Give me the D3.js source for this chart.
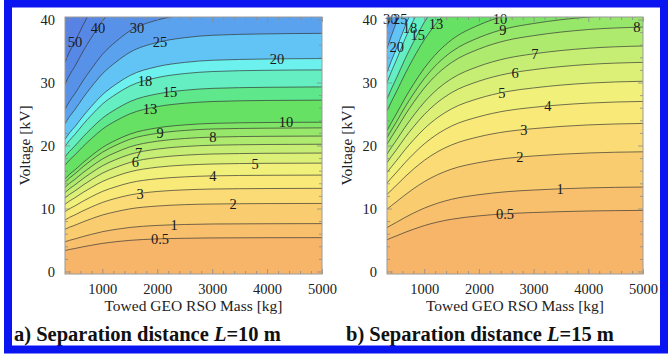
<!DOCTYPE html>
<html>
<head>
<meta charset="utf-8">
<script src="https://cdn.jsdelivr.net/npm/d3@7"></script>
<style>
  body { margin: 0; background: #fff; }
  svg text { font-family: "Liberation Serif", "Times New Roman", serif; }
</style>
</head>
<body>
<div id="chart"></div>
<script>
/* --------------------------------------------------------- */
/* DATA                     */
/* --------------------------------------------------------- */

// towed mass samples [kg] where each contour voltage was read
const masses = [320, 400, 500, 650, 800, 1000, 1250, 1500, 2000, 2500, 3000, 4000, 5000];

const massTicks = [1000, 2000, 3000, 4000, 5000];
const voltTicks = [0, 10, 20, 30, 40];

// a) L = 10 m : contour levels and voltage [kV] of each contour at the masses above
const levelsA = [0.5, 1, 2, 3, 4, 5, 6, 7, 8, 9, 10, 13, 15, 18, 20, 25, 30, 40, 50];
const contoursA = [
  [3.33, 3.49, 3.65, 3.92, 4.16, 4.46, 4.73, 4.94, 5.17, 5.27, 5.33, 5.36, 5.37],
  [4.71, 4.94, 5.17, 5.55, 5.89, 6.31, 6.69, 6.99, 7.31, 7.46, 7.54, 7.58, 7.6],
  [6.70, 7.02, 7.34, 7.88, 8.37, 8.96, 9.50, 9.94, 10.39, 10.61, 10.71, 10.78, 10.8],
  [8.18, 8.58, 8.98, 9.64, 10.23, 10.96, 11.62, 12.14, 12.70, 12.96, 13.09, 13.17, 13.2],
  [9.49, 9.95, 10.40, 11.17, 11.86, 12.70, 13.46, 14.08, 14.72, 15.02, 15.18, 15.27, 15.3],
  [10.66, 11.18, 11.70, 12.56, 13.33, 14.28, 15.14, 15.82, 16.55, 16.89, 17.06, 17.17, 17.2],
  [11.66, 12.22, 12.78, 13.72, 14.57, 15.60, 16.54, 17.30, 18.09, 18.46, 18.65, 18.76, 18.8],
  [12.52, 13.13, 13.74, 14.75, 15.66, 16.77, 17.78, 18.58, 19.43, 19.84, 20.04, 20.16, 20.2],
  [13.33, 13.98, 14.62, 15.70, 16.66, 17.85, 18.92, 19.78, 20.68, 21.11, 21.33, 21.46, 21.5],
  [14.14, 14.82, 15.50, 16.64, 17.67, 18.92, 20.06, 20.98, 21.93, 22.39, 22.62, 22.75, 22.8],
  [14.69, 15.41, 16.12, 17.30, 18.37, 19.67, 20.86, 21.80, 22.80, 23.27, 23.51, 23.65, 23.7],
  [16.86, 17.68, 18.50, 19.86, 21.08, 22.58, 23.94, 25.02, 26.17, 26.71, 26.98, 27.15, 27.2],
  [18.17, 19.05, 19.92, 21.39, 22.71, 24.32, 25.78, 26.96, 28.19, 28.77, 29.07, 29.24, 29.3],
  [19.84, 20.80, 21.76, 23.36, 24.80, 26.56, 28.16, 29.44, 30.78, 31.42, 31.74, 31.94, 32.0],
  [20.96, 21.97, 22.98, 24.67, 26.20, 28.05, 29.74, 31.10, 32.52, 33.19, 33.53, 33.73, 33.8],
  [23.44, 24.57, 25.70, 27.59, 29.30, 31.37, 33.26, 34.78, 36.36, 37.12, 37.50, 37.72, 37.8],
  [25.73, 26.98, 28.22, 30.30, 32.16, 34.45, 36.52, 38.18, 39.92, 40.75, 41.17, 41.42, 41.5],
  [29.70, 31.14, 32.57, 34.97, 37.12, 39.76, 42.15, 44.07, 46.08, 47.04, 47.52, 47.80, 47.9],
  [33.23, 34.84, 36.45, 39.13, 41.54, 44.49, 47.17, 49.31, 51.56, 52.64, 53.17, 53.49, 53.6]
];
// mass [kg] where each contour label sits
const labelMassA = [2050, 2305, 3380, 1686, 3015, 3780, 1600, 1660, 3015, 2050, 4345, 1868, 2232, 1777, 4180, 2050, 1631, 921, 502];

// b) L = 15 m
const levelsB = [0.5, 1, 2, 3, 4, 5, 6, 7, 8, 9, 10, 13, 15, 18, 20, 25, 30];
const contoursB = [
  [5.04, 5.34, 5.67, 6.21, 6.69, 7.28, 7.86, 8.29, 8.83, 9.17, 9.36, 9.60, 9.7],
  [6.97, 7.37, 7.84, 8.58, 9.25, 10.05, 10.85, 11.46, 12.19, 12.66, 12.93, 13.27, 13.4],
  [9.88, 10.45, 11.12, 12.16, 13.11, 14.25, 15.39, 16.25, 17.29, 17.96, 18.34, 18.81, 19.0],
  [12.22, 12.93, 13.75, 15.04, 16.22, 17.63, 19.04, 20.09, 21.39, 22.21, 22.68, 23.27, 23.5],
  [14.04, 14.85, 15.80, 17.28, 18.63, 20.25, 21.87, 23.09, 24.57, 25.52, 26.06, 26.73, 27.0],
  [15.70, 16.61, 17.67, 19.33, 20.84, 22.65, 24.46, 25.82, 27.48, 28.54, 29.14, 29.90, 30.2],
  [17.26, 18.26, 19.42, 21.25, 22.91, 24.90, 26.89, 28.39, 30.21, 31.37, 32.04, 32.87, 33.2],
  [18.62, 19.69, 20.94, 22.91, 24.70, 26.85, 29.00, 30.61, 32.58, 33.83, 34.55, 35.44, 35.8],
  [20.18, 21.34, 22.70, 24.83, 26.77, 29.10, 31.43, 33.17, 35.31, 36.67, 37.44, 38.41, 38.8],
  [21.22, 22.44, 23.87, 26.11, 28.15, 30.60, 33.05, 34.88, 37.13, 38.56, 39.37, 40.39, 40.8],
  [22.36, 23.65, 25.16, 27.52, 29.67, 32.25, 34.83, 36.77, 39.13, 40.64, 41.50, 42.57, 43.0],
  [25.48, 26.95, 28.67, 31.36, 33.81, 36.75, 39.69, 41.90, 44.59, 46.31, 47.29, 48.51, 49.0],
  [27.40, 28.99, 30.83, 33.73, 36.36, 39.53, 42.69, 45.06, 47.96, 49.80, 50.86, 52.17, 52.7],
  [30.00, 31.74, 33.75, 36.93, 39.81, 43.28, 46.74, 49.33, 52.51, 54.53, 55.68, 57.12, 57.7],
  [31.62, 33.44, 35.57, 38.91, 41.95, 45.60, 49.25, 51.98, 55.33, 57.46, 58.67, 60.19, 60.8],
  [35.36, 37.40, 39.78, 43.52, 46.92, 51.00, 55.08, 58.14, 61.88, 64.26, 65.62, 67.32, 68.0],
  [38.74, 40.98, 43.58, 47.68, 51.41, 55.88, 60.35, 63.70, 67.80, 70.40, 71.89, 73.76, 74.5]
];
const labelMassB = [2477, 3483, 2751, 2824, 3263, 2422, 2660, 3025, 4890, 2440, 2386, 1216, 880, 740, 500, 560, 380];

/* --------------------------------------------------------- */
/* STYLE                                                     */
/* --------------------------------------------------------- */

// fill of the region lying above each contour level (key = lower level)
const bandColor = {
  "0": "#f7b56a", "0.5": "#f8c06c", "1": "#facc70", "2": "#fbdb75", "3": "#f9e979",
  "4": "#f0f07a", "5": "#dcf078", "6": "#c6ee74", "7": "#aeea6e", "8": "#96e76a",
  "9": "#80e466", "10": "#66e163", "13": "#5fe78c", "15": "#64eec2", "18": "#6cf1ef",
  "20": "#62c4f4", "25": "#5aa2ee", "30": "#5892e8", "40": "#5888e6", "50": "#5882e4"
};

const W = 672, H = 354;
const plotTop = 17, plotBottom = 274;

const svg = d3.select("#chart").append("svg")
  .attr("width", W)
  .attr("height", H);

svg.append("rect").attr("width", W).attr("height", H).attr("fill", "#fff");

/* --------------------------------------------------------- */
/* DRAW ONE PANEL                                            */
/* --------------------------------------------------------- */
function drawPanel(p) {

  const x = d3.scaleLinear().domain([masses[0], 5000]).range([p.x0, p.x1]);
  const y = d3.scaleLinear().domain([-0.4, 40.4]).range([plotBottom, plotTop]);

  svg.append("clipPath").attr("id", "clip-" + p.id)
    .append("rect")
    .attr("x", p.x0).attr("y", plotTop)
    .attr("width", p.x1 - p.x0).attr("height", plotBottom - plotTop);

  const plot = svg.append("g").attr("clip-path", "url(#clip-" + p.id + ")");

  plot.append("rect")
    .attr("x", p.x0).attr("y", plotTop)
    .attr("width", p.x1 - p.x0).attr("height", plotBottom - plotTop)
    .attr("fill", bandColor["0"]);

  const line = d3.line()
    .x(function (d, i) { return x(masses[i]); })
    .y(function (d) { return y(d); })
    .curve(d3.curveMonotoneX);

  // shaded bands: everything above a contour gets that level's colour
  p.levels.forEach(function (lev, k) {
    const d = line(p.contours[k]) +
      "L" + x(5000) + "," + y(90) +
      "L" + x(masses[0]) + "," + y(90) + "Z";
    plot.append("path").attr("d", d).attr("fill", bandColor[String(lev)]);
  });

  // contour lines
  p.levels.forEach(function (lev, k) {
    plot.append("path")
      .attr("d", line(p.contours[k]))
      .attr("fill", "none")
      .attr("stroke", "#333")
      .attr("stroke-opacity", 0.85)
      .attr("stroke-width", 0.8);
  });

  // contour labels
  p.levels.forEach(function (lev, k) {
    const at = d3.scaleLinear().domain(masses).range(p.contours[k]);
    const m = p.labelMass[k];
    const v = Math.min(at(m), 40.1);
    svg.append("text")
      .attr("x", x(m))
      .attr("y", y(v))
      .attr("dy", "0.35em")
      .attr("text-anchor", "middle")
      .attr("font-size", 14.5)
      .attr("fill", "#1a1a1a")
      .text(String(lev));
  });

  // frame with ticks on all four sides (Mathematica style)
  const minorX = d3.range(400, 5000, 200).filter(function (m) { return m % 1000 !== 0; });
  const minorY = d3.range(2, 40, 2).filter(function (v) { return v % 10 !== 0; });

  function tickAxis(axis, scale, values, size, tr, labels) {
    const a = axis(scale).tickValues(values).tickSizeInner(-size).tickSizeOuter(0);
    if (!labels) a.tickFormat("");
    else a.tickPadding(5 + size).tickFormat(d3.format("d"));
    const g = svg.append("g").attr("transform", tr).call(a);
    g.select(".domain").remove();
    g.selectAll(".tick line").attr("stroke", "#8c8c8c").attr("stroke-width", 0.8);
    g.selectAll(".tick text")
      .attr("font-size", 14.5)
      .attr("fill", "#222")
      .style("font-family", '"Liberation Serif", serif');
    return g;
  }

  tickAxis(d3.axisBottom, x, massTicks, 5, "translate(0," + plotBottom + ")", true);
  tickAxis(d3.axisBottom, x, minorX, 3, "translate(0," + plotBottom + ")", false);
  tickAxis(d3.axisTop, x, massTicks, 5, "translate(0," + plotTop + ")", false);
  tickAxis(d3.axisTop, x, minorX, 3, "translate(0," + plotTop + ")", false);
  tickAxis(d3.axisLeft, y, voltTicks, 5, "translate(" + p.x0 + ",0)", true);
  tickAxis(d3.axisLeft, y, minorY, 3, "translate(" + p.x0 + ",0)", false);
  tickAxis(d3.axisRight, y, voltTicks, 5, "translate(" + p.x1 + ",0)", false);
  tickAxis(d3.axisRight, y, minorY, 3, "translate(" + p.x1 + ",0)", false);

  svg.append("rect")
    .attr("x", p.x0).attr("y", plotTop)
    .attr("width", p.x1 - p.x0).attr("height", plotBottom - plotTop)
    .attr("fill", "none")
    .attr("stroke", "#9a9a9a")
    .attr("stroke-width", 1);

  // axis titles
  svg.append("text")
    .attr("x", (p.x0 + p.x1) / 2)
    .attr("y", 311)
    .attr("text-anchor", "middle")
    .attr("font-size", 15.5)
    .attr("fill", "#222")
    .text("Towed GEO RSO Mass [kg]");

  svg.append("text")
    .attr("transform", "translate(" + (p.x0 - 35) + "," + ((plotTop + plotBottom) / 2) + ") rotate(-90)")
    .attr("text-anchor", "middle")
    .attr("font-size", 15.5)
    .attr("fill", "#222")
    .text("Voltage [kV]");

  // caption
  const cap = svg.append("text")
    .attr("x", p.capX)
    .attr("y", 341)
    .attr("font-size", 20.5)
    .attr("font-weight", "bold")
    .attr("fill", "#111");
  cap.append("tspan").text(p.tag + ") Separation distance ");
  cap.append("tspan").attr("font-style", "italic").text("L");
  cap.append("tspan").text("=" + p.dist + " m");
}

drawPanel({ id: "a", x0: 65, x1: 322, levels: levelsA, contours: contoursA,
  labelMass: labelMassA, tag: "a", dist: 10, capX: 14 });
drawPanel({ id: "b", x0: 387, x1: 643, levels: levelsB, contours: contoursB,
  labelMass: labelMassB, tag: "b", dist: 15, capX: 346 });

// blue frame round the whole figure
svg.append("rect")
  .attr("x", 8).attr("y", 3.5)
  .attr("width", 656).attr("height", 346)
  .attr("fill", "none")
  .attr("stroke", "#0a14f0")
  .attr("stroke-width", 8);
</script>
</body>
</html>
